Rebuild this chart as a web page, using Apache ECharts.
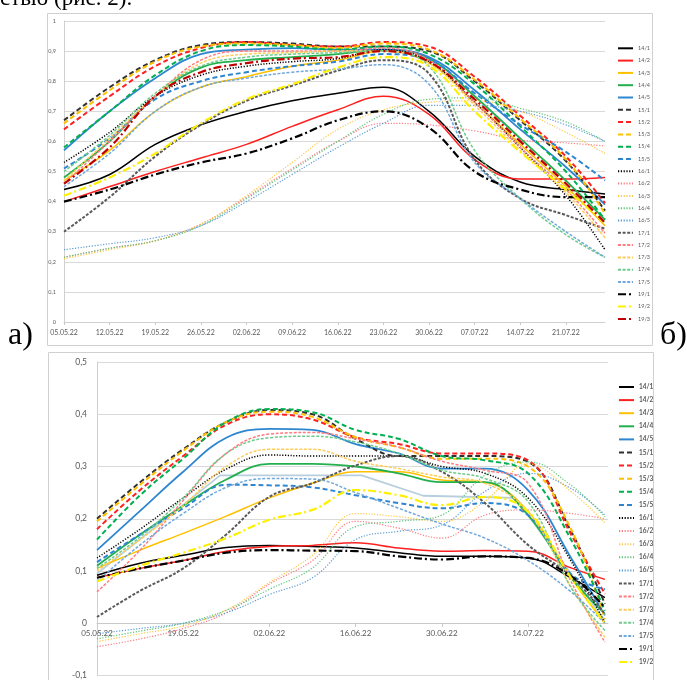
<!DOCTYPE html>
<html lang="ru">
<head>
  <meta charset="utf-8">
</head>
<body style="margin: 0">
  <div id="container" style="width: 687px; height: 680px"></div>
  <script type="text/javascript" src="https://cdn.jsdelivr.net/npm/echarts@6/dist/echarts.min.js"></script>
  <script type="text/javascript">
    // x = days after 05.05.22
    var daysA = [0, 7, 14, 21, 28, 35, 42, 49, 56, 63, 70, 77, 83];
    var daysB = [0, 7, 14, 21, 28, 35, 42, 49, 56, 63, 70, 77, 82.5];
    var ticksA = ['05.05.22', '12.05.22', '19.05.22', '26.05.22', '02.06.22', '09.06.22',
      '16.06.22', '23.06.22', '30.06.22', '07.07.22', '14.07.22', '21.07.22'];
    var ticksB = ['05.05.22', '19.05.22', '02.06.22', '16.06.22', '30.06.22', '14.07.22'];

    // chart a)
    var a14_1 = [0.44, 0.49, 0.59, 0.655, 0.70, 0.735, 0.76, 0.78, 0.70, 0.55, 0.465, 0.44, 0.425];
    var a14_2 = [0.40, 0.45, 0.50, 0.545, 0.59, 0.65, 0.705, 0.75, 0.69, 0.54, 0.475, 0.475, 0.48];
    var a14_3 = [0.47, 0.57, 0.70, 0.78, 0.815, 0.85, 0.87, 0.90, 0.86, 0.73, 0.59, 0.45, 0.32];
    var a14_4 = [0.48, 0.60, 0.75, 0.845, 0.87, 0.88, 0.89, 0.905, 0.875, 0.75, 0.61, 0.47, 0.34];
    var a14_5 = [0.57, 0.70, 0.81, 0.89, 0.905, 0.91, 0.905, 0.905, 0.88, 0.77, 0.64, 0.515, 0.39];
    var a15_1 = [0.67, 0.78, 0.87, 0.92, 0.93, 0.925, 0.915, 0.915, 0.90, 0.80, 0.67, 0.535, 0.37];
    var a15_2 = [0.64, 0.75, 0.85, 0.91, 0.93, 0.92, 0.915, 0.93, 0.915, 0.815, 0.685, 0.55, 0.395];
    var a15_3 = [0.66, 0.77, 0.865, 0.915, 0.925, 0.92, 0.91, 0.925, 0.905, 0.805, 0.675, 0.54, 0.36];
    var a15_4 = [0.58, 0.70, 0.82, 0.90, 0.92, 0.915, 0.905, 0.915, 0.89, 0.79, 0.65, 0.50, 0.34];
    var a15_5 = [0.51, 0.61, 0.74, 0.80, 0.83, 0.85, 0.865, 0.89, 0.87, 0.76, 0.655, 0.565, 0.47];
    var a16_1 = [0.53, 0.63, 0.75, 0.82, 0.85, 0.865, 0.875, 0.905, 0.865, 0.73, 0.58, 0.42, 0.24];
    var a16_2 = [0.215, 0.245, 0.27, 0.325, 0.415, 0.51, 0.60, 0.66, 0.655, 0.635, 0.605, 0.595, 0.585];
    var a16_3 = [0.21, 0.24, 0.27, 0.325, 0.42, 0.53, 0.64, 0.705, 0.73, 0.735, 0.70, 0.63, 0.56];
    var a16_4 = [0.215, 0.245, 0.27, 0.32, 0.41, 0.505, 0.60, 0.69, 0.74, 0.745, 0.71, 0.665, 0.60];
    var a16_5 = [0.24, 0.26, 0.28, 0.32, 0.40, 0.49, 0.58, 0.66, 0.72, 0.72, 0.70, 0.655, 0.60];
    var a17_1 = [0.30, 0.415, 0.55, 0.655, 0.735, 0.785, 0.835, 0.87, 0.825, 0.54, 0.41, 0.355, 0.31];
    var a17_2 = [0.46, 0.60, 0.75, 0.87, 0.90, 0.90, 0.90, 0.91, 0.87, 0.73, 0.58, 0.44, 0.295];
    var a17_3 = [0.47, 0.61, 0.75, 0.86, 0.89, 0.895, 0.90, 0.90, 0.86, 0.72, 0.57, 0.43, 0.28];
    var a17_4 = [0.50, 0.62, 0.76, 0.85, 0.88, 0.89, 0.895, 0.90, 0.85, 0.57, 0.41, 0.29, 0.215];
    var a17_5 = [0.45, 0.56, 0.70, 0.78, 0.81, 0.83, 0.84, 0.855, 0.79, 0.53, 0.41, 0.30, 0.215];
    var a19_1 = [0.40, 0.44, 0.49, 0.53, 0.56, 0.61, 0.67, 0.70, 0.645, 0.50, 0.44, 0.415, 0.415];
    var a19_2 = [0.42, 0.48, 0.56, 0.66, 0.74, 0.79, 0.845, 0.88, 0.85, 0.70, 0.565, 0.44, 0.33];
    var a19_3 = [0.46, 0.58, 0.75, 0.83, 0.86, 0.875, 0.88, 0.90, 0.865, 0.74, 0.60, 0.46, 0.33];

    // chart б)
    var b14_1 = [0.092, 0.115, 0.13, 0.145, 0.149, 0.147, 0.144, 0.135, 0.128, 0.128, 0.125, 0.087, 0.049];
    var b14_2 = [0.087, 0.105, 0.12, 0.138, 0.147, 0.149, 0.154, 0.144, 0.138, 0.139, 0.138, 0.106, 0.084];
    var b14_3 = [0.105, 0.14, 0.172, 0.205, 0.24, 0.268, 0.29, 0.29, 0.274, 0.27, 0.214, 0.087, 0.0];
    var b14_4 = [0.11, 0.17, 0.225, 0.275, 0.305, 0.305, 0.30, 0.287, 0.27, 0.27, 0.207, 0.087, 0.018];
    var b14_5 = [0.14, 0.215, 0.29, 0.355, 0.372, 0.37, 0.343, 0.325, 0.296, 0.296, 0.255, 0.125, 0.015];
    var b15_1 = [0.20, 0.27, 0.333, 0.385, 0.408, 0.40, 0.353, 0.32, 0.32, 0.32, 0.309, 0.176, 0.037];
    var b15_2 = [0.18, 0.255, 0.32, 0.38, 0.40, 0.39, 0.356, 0.343, 0.325, 0.325, 0.312, 0.17, 0.056];
    var b15_3 = [0.195, 0.265, 0.33, 0.385, 0.405, 0.395, 0.356, 0.337, 0.315, 0.315, 0.30, 0.18, 0.008];
    var b15_4 = [0.16, 0.245, 0.315, 0.385, 0.41, 0.404, 0.37, 0.353, 0.32, 0.312, 0.287, 0.16, 0.024];
    var b15_5 = [0.117, 0.17, 0.22, 0.265, 0.264, 0.26, 0.245, 0.23, 0.22, 0.23, 0.207, 0.094, 0.065];
    var b16_1 = [0.125, 0.18, 0.24, 0.295, 0.322, 0.32, 0.32, 0.32, 0.30, 0.287, 0.24, 0.119, 0.0];
    var b16_2 = [-0.045, -0.03, -0.01, 0.02, 0.075, 0.12, 0.195, 0.182, 0.163, 0.207, 0.217, 0.21, 0.20];
    var b16_3 = [-0.035, -0.02, -0.005, 0.025, 0.078, 0.13, 0.21, 0.204, 0.195, 0.233, 0.305, 0.252, 0.192];
    var b16_4 = [-0.03, -0.015, 0.0, 0.025, 0.065, 0.106, 0.185, 0.195, 0.207, 0.283, 0.309, 0.264, 0.204];
    var b16_5 = [-0.02, -0.01, 0.0, 0.02, 0.055, 0.087, 0.16, 0.176, 0.188, 0.252, 0.287, 0.258, 0.207];
    var b17_1 = [0.012, 0.062, 0.105, 0.17, 0.242, 0.268, 0.302, 0.32, 0.29, 0.23, 0.15, 0.09, 0.018];
    var b17_2 = [0.06, 0.14, 0.235, 0.325, 0.362, 0.365, 0.353, 0.337, 0.31, 0.293, 0.268, 0.08, -0.036];
    var b17_3 = [0.10, 0.16, 0.225, 0.30, 0.333, 0.333, 0.31, 0.296, 0.28, 0.268, 0.214, 0.07, -0.027];
    var b17_4 = [0.105, 0.165, 0.24, 0.325, 0.355, 0.358, 0.347, 0.325, 0.293, 0.277, 0.233, 0.068, -0.014];
    var b17_5 = [0.08, 0.15, 0.21, 0.26, 0.277, 0.276, 0.25, 0.22, 0.19, 0.163, 0.12, 0.06, 0.0];
    var b19_1 = [0.087, 0.105, 0.12, 0.135, 0.14, 0.139, 0.138, 0.128, 0.122, 0.128, 0.125, 0.09, 0.03];
    var b19_2 = [0.08, 0.11, 0.135, 0.163, 0.198, 0.217, 0.255, 0.245, 0.226, 0.242, 0.214, 0.087, 0.0];
    // unlabelled pale blue line (straight segments)
    var bExtraDays = [0, 20, 43, 53, 68, 82.5];
    var bExtra = [0.095, 0.283, 0.283, 0.244, 0.24, 0.005];

    var DASH = [5, 3], DOT = [1.2, 1.6], SQ = [3, 1.6], DASHDOT = [8, 3, 2, 3];
    var styles = {
      '14/1': ['#000000', 'solid', 1.5], '14/2': ['#FF2020', 'solid', 1.5], '14/3': ['#FFC000', 'solid', 1.5],
      '14/4': ['#22B04E', 'solid', 1.8], '14/5': ['#2E86D1', 'solid', 1.8],
      '15/1': ['#303030', DASH, 2], '15/2': ['#FF2020', DASH, 2], '15/3': ['#FFC000', DASH, 2],
      '15/4': ['#00B050', DASH, 2], '15/5': ['#2E86D1', DASH, 2],
      '16/1': ['#000000', DOT, 1.5], '16/2': ['#FF7C80', DOT, 1.2], '16/3': ['#FFC84A', DOT, 1.2],
      '16/4': ['#5CC47A', DOT, 1.2], '16/5': ['#5B9BD5', DOT, 1.2],
      '17/1': ['#595959', SQ, 2], '17/2': ['#FF7C80', SQ, 1.5], '17/3': ['#FFCC55', SQ, 1.5],
      '17/4': ['#6CCB8A', SQ, 1.5], '17/5': ['#6FA8DC', SQ, 1.5],
      '19/1': ['#000000', DASHDOT, 2.2], '19/2': ['#FFF000', DASHDOT, 2.2], '19/3': ['#C00000', DASHDOT, 2.2]
    };

    var rowsA = [['14/1', a14_1], ['14/2', a14_2], ['14/3', a14_3], ['14/4', a14_4], ['14/5', a14_5],
      ['15/1', a15_1], ['15/2', a15_2], ['15/3', a15_3], ['15/4', a15_4], ['15/5', a15_5],
      ['16/1', a16_1], ['16/2', a16_2], ['16/3', a16_3], ['16/4', a16_4], ['16/5', a16_5],
      ['17/1', a17_1], ['17/2', a17_2], ['17/3', a17_3], ['17/4', a17_4], ['17/5', a17_5],
      ['19/1', a19_1], ['19/2', a19_2], ['19/3', a19_3]];
    var rowsB = [['14/1', b14_1], ['14/2', b14_2], ['14/3', b14_3], ['14/4', b14_4], ['14/5', b14_5],
      ['15/1', b15_1], ['15/2', b15_2], ['15/3', b15_3], ['15/4', b15_4], ['15/5', b15_5],
      ['16/1', b16_1], ['16/2', b16_2], ['16/3', b16_3], ['16/4', b16_4], ['16/5', b16_5],
      ['17/1', b17_1], ['17/2', b17_2], ['17/3', b17_3], ['17/4', b17_4], ['17/5', b17_5],
      ['19/1', b19_1], ['19/2', b19_2]];

    function line(name, xs, ys, g) {
      var s = styles[name];
      return {
        type: 'line', name: name, xAxisIndex: g, yAxisIndex: g,
        data: xs.map(function (x, i) { return [x, ys[i]]; }),
        smooth: 0.4, symbol: 'none', color: s[0],
        lineStyle: { color: s[0], type: s[1], width: s[2] },
        emphasis: { disabled: true }
      };
    }

    var series = [];
    rowsA.forEach(function (r) { series.push(line(r[0], daysA, r[1], 0)); });
    series.push({
      type: 'line', name: 'extra', xAxisIndex: 1, yAxisIndex: 1, symbol: 'none',
      data: bExtraDays.map(function (x, i) { return [x, bExtra[i]]; }),
      lineStyle: { color: '#B7CEDD', width: 1.8 }, emphasis: { disabled: true }
    });
    rowsB.forEach(function (r) { series.push(line(r[0], daysB, r[1], 1)); });

    function comma(v) {
      if (v === 0) return '0';
      if (v === 1) return '1';
      return v.toFixed(1).replace('.', ',');
    }
    var FONT = 'Lato';

    var dom = document.getElementById('container');
    var myChart = echarts.init(dom, null, { renderer: 'canvas' });
    var option = {
      animation: false,
      grid: [
        { left: 64, right: 82, top: 21, bottom: 358 },
        { left: 97, right: 79, top: 362, bottom: 2 }
      ],
      xAxis: [
        {
          type: 'value', gridIndex: 0, min: 0, max: 83, interval: 7,
          axisLine: { lineStyle: { color: '#D0D0D0' } },
          axisTick: { show: true, length: 3, lineStyle: { color: '#C8C8C8' },
            customValues: [0, 7, 14, 21, 28, 35, 42, 49, 56, 63, 70, 77] },
          axisLabel: { fontSize: 7, color: '#595959', fontFamily: FONT, margin: 7,
            customValues: [0, 7, 14, 21, 28, 35, 42, 49, 56, 63, 70, 77],
            formatter: function (v) { return v % 7 === 0 && ticksA[v / 7] ? ticksA[v / 7] : ''; } },
          splitLine: { show: false }
        },
        {
          // axis sits on y = 0, i.e. 52.7px above the grid bottom (-0.1)
          type: 'value', gridIndex: 1, min: 0, max: 83, interval: 14, offset: -52.7,
          axisLine: { onZero: false, lineStyle: { color: '#C8C8C8' } },
          axisTick: { show: true, length: 4, lineStyle: { color: '#C8C8C8' },
            customValues: [0, 14, 28, 42, 56, 70] },
          axisLabel: { fontSize: 8, color: '#595959', fontFamily: FONT, margin: 7,
            customValues: [0, 14, 28, 42, 56, 70],
            formatter: function (v) { return v % 14 === 0 && ticksB[v / 14] ? ticksB[v / 14] : ''; } },
          splitLine: { show: false }
        }
      ],
      yAxis: [
        {
          type: 'value', gridIndex: 0, min: 0, max: 1, interval: 0.1,
          axisLine: { show: true, onZero: false, lineStyle: { color: '#D0D0D0' } },
          axisTick: { show: false },
          axisLabel: { fontSize: 5.5, color: '#595959', fontFamily: FONT, margin: 8, formatter: comma },
          splitLine: { lineStyle: { color: '#D9D9D9', width: 1.2 } }
        },
        {
          type: 'value', gridIndex: 1, min: -0.1, max: 0.5, interval: 0.1,
          axisLine: { show: true, onZero: false, lineStyle: { color: '#D0D0D0' } },
          axisTick: { show: false },
          axisLabel: { fontSize: 8.5, color: '#595959', fontFamily: FONT, margin: 10, formatter: comma },
          splitLine: { lineStyle: { color: '#D9D9D9', width: 1 } }
        }
      ],
      legend: [
        {
          orient: 'vertical', left: 612, top: 39.8, itemWidth: 15, itemHeight: 7, itemGap: 5.3,
          selectedMode: false, data: rowsA.map(function (r) { return r[0]; }),
          itemStyle: { color: 'rgba(0,0,0,0)', borderWidth: 0 },
          textStyle: { fontSize: 5.5, lineHeight: 7, color: '#595959', fontFamily: FONT }
        },
        {
          orient: 'vertical', left: 613, top: 378.5, itemWidth: 15, itemHeight: 7, itemGap: 6.1,
          selectedMode: false, data: rowsB.map(function (r) { return r[0]; }),
          itemStyle: { color: 'rgba(0,0,0,0)', borderWidth: 0 },
          textStyle: { fontSize: 6.5, lineHeight: 7, color: '#595959', fontWeight: 'bold', fontFamily: FONT }
        }
      ],
      graphic: [
        { type: 'rect', silent: true, shape: { x: 47.5, y: 13.5, width: 605, height: 332 },
          style: { fill: 'none', stroke: '#D0D0D0', lineWidth: 1 } },
        { type: 'rect', silent: true, shape: { x: 48.5, y: 352.5, width: 605, height: 345 },
          style: { fill: 'none', stroke: '#D0D0D0', lineWidth: 1 } },
        { type: 'text', silent: true, z: 100,
          style: { text: 'ствю (рис. 2).', x: 0, y: -1, fill: '#000', verticalAlign: 'middle',
            font: '23px "Liberation Serif"' } },
        { type: 'text', silent: true, z: 100,
          style: { text: 'а)', x: 8, y: 336, fill: '#000', verticalAlign: 'middle',
            font: '32px "Liberation Serif"' } },
        { type: 'text', silent: true, z: 100,
          style: { text: 'б)', x: 660, y: 336, fill: '#000', verticalAlign: 'middle',
            font: '32px "Liberation Serif"' } }
      ],
      series: series
    };

    myChart.setOption(option);
    window.addEventListener('resize', myChart.resize);
  </script>
</body>
</html>
